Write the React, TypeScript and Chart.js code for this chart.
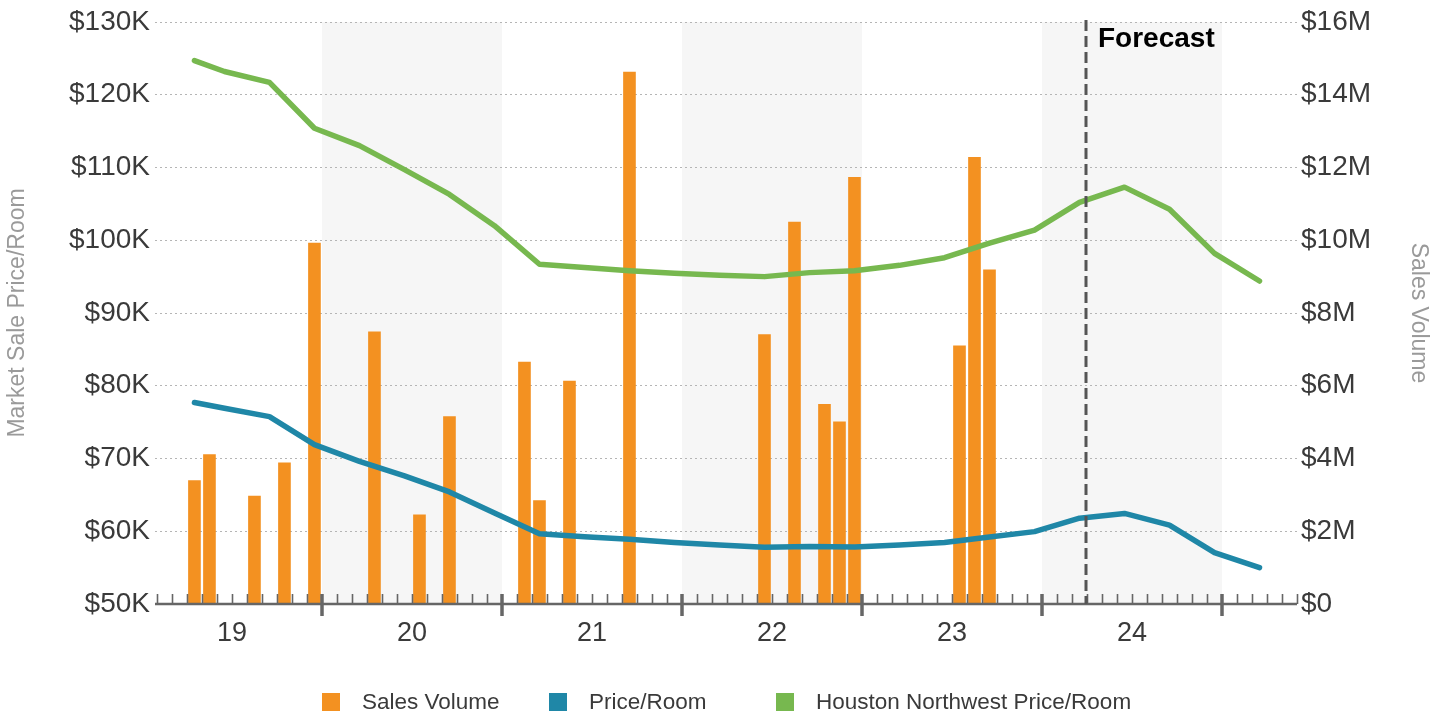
import React, { useEffect, useRef } from 'react';
import { Chart, registerables } from 'chart.js';

Chart.register(...registerables);

// Month index counted from January 2019 (0 = Jan 2019); marks sit mid-month.
const YEAR_LABELS = ['19', '20', '21', '22', '23', '24'];
const SHADED_YEAR_INDEXES = [1, 3, 5];

const SALE_MONTHS = [3, 4, 7, 9, 11, 15, 18, 20, 25, 26, 28, 32, 41, 43, 45, 46, 47, 54, 55, 56];
const SALES_VOLUME_M = [
  3.39, 4.11, 2.97, 3.88, 9.92, 7.48, 2.45, 5.15, 6.65, 2.84,
  6.13, 14.62, 7.41, 10.5, 5.49, 5.01, 11.73, 7.1, 12.28, 9.19,
];

const QUARTER_MONTHS = [
  3, 5, 8, 11, 14, 17, 20, 23, 26, 29, 32, 35, 38, 41, 44, 47, 50, 53, 56, 59, 62, 65, 68, 71, 74,
];
const PRICE_PER_ROOM_K = [
  77.7, 76.9, 75.75, 71.9, 69.6, 67.6, 65.4, 62.5, 59.65, 59.25, 58.9, 58.45, 58.1,
  57.8, 57.9, 57.85, 58.1, 58.45, 59.2, 59.95, 61.8, 62.45, 60.85, 57.05, 55.0,
];
const SUBMARKET_PRICE_PER_ROOM_K = [
  124.7, 123.2, 121.7, 115.4, 113.0, 109.7, 106.3, 102.0, 96.7, 96.25, 95.8, 95.45, 95.2,
  95.0, 95.55, 95.8, 96.55, 97.6, 99.6, 101.4, 105.2, 107.3, 104.25, 98.2, 94.4,
];

const FORECAST_START_MONTH = 62.95;
const AXIS_START_MONTH = 0.87;
const AXIS_END_MONTH = 77;

const PRICE_MIN_K = 50;
const PRICE_MAX_K = 130;
const PRICE_STEP_K = 10;
const VOLUME_MIN_M = 0;
const VOLUME_MAX_M = 16;
const VOLUME_STEP_M = 2;

const ORANGE = '#f39121';
const BLUE = '#1f87a7';
const GREEN = '#77b84f';
const TEXT = '#3a3a3a';
const TITLE_GREY = '#9a9a9a';
const AXIS_GREY = '#666666';
const FONT = '"Liberation Sans", Arial, sans-serif';

const yearBands = {
  id: 'yearBands',
  beforeDraw(chart: any) {
    const { ctx, chartArea, scales } = chart;
    const x = scales.x;
    ctx.save();
    ctx.beginPath();
    ctx.rect(chartArea.left, chartArea.top, chartArea.right - chartArea.left, chartArea.bottom - chartArea.top);
    ctx.clip();
    ctx.fillStyle = '#f6f6f6';
    SHADED_YEAR_INDEXES.forEach((yi) => {
      const x0 = x.getPixelForValue(yi * 12);
      const x1 = x.getPixelForValue(yi * 12 + 12);
      ctx.fillRect(x0, chartArea.top, x1 - x0, chartArea.bottom - chartArea.top);
    });
    ctx.restore();
  },
};

const monthAxis = {
  id: 'monthAxis',
  afterDatasetsDraw(chart: any) {
    const { ctx, chartArea, scales } = chart;
    const x = scales.x;
    const yb = chartArea.bottom;
    ctx.save();
    ctx.strokeStyle = AXIS_GREY;
    ctx.lineCap = 'butt';
    // month ticks pointing up into the plot
    ctx.lineWidth = 1.6;
    for (let m = Math.ceil(AXIS_START_MONTH); m <= Math.floor(AXIS_END_MONTH); m++) {
      if (m % 12 === 0) continue;
      const px = Math.round(x.getPixelForValue(m)) + 0.5;
      ctx.beginPath();
      ctx.moveTo(px, yb - 10);
      ctx.lineTo(px, yb);
      ctx.stroke();
    }
    // year boundary ticks crossing the axis
    ctx.lineWidth = 3.5;
    for (let m = 12; m < AXIS_END_MONTH; m += 12) {
      const px = Math.round(x.getPixelForValue(m));
      ctx.beginPath();
      ctx.moveTo(px, yb - 10);
      ctx.lineTo(px, yb + 12);
      ctx.stroke();
    }
    // axis line
    ctx.lineWidth = 2.5;
    ctx.beginPath();
    ctx.moveTo(chartArea.left, yb);
    ctx.lineTo(chartArea.right, yb);
    ctx.stroke();

    // forecast divider
    const fx = Math.round(x.getPixelForValue(FORECAST_START_MONTH));
    ctx.strokeStyle = '#555555';
    ctx.lineWidth = 3;
    ctx.setLineDash([11, 5]);
    ctx.beginPath();
    ctx.moveTo(fx, chartArea.top - 2);
    ctx.lineTo(fx, yb);
    ctx.stroke();
    ctx.setLineDash([]);
    ctx.fillStyle = '#000000';
    ctx.font = `bold 28px ${FONT}`;
    ctx.textAlign = 'left';
    ctx.textBaseline = 'alphabetic';
    ctx.fillText('Forecast', fx + 12, chartArea.top + 25);
    ctx.restore();
  },
};

const columnLegend = {
  id: 'columnLegend',
  afterDraw(chart: any) {
    const { ctx } = chart;
    const column = 227;
    const startX = chart.width / 2 - 400;
    const cy = 702;
    ctx.save();
    ctx.font = `22.5px ${FONT}`;
    ctx.textAlign = 'left';
    ctx.textBaseline = 'middle';
    chart.data.datasets.forEach((ds: any, i: number) => {
      const bx = startX + i * column;
      ctx.fillStyle = ds.legendColor;
      ctx.fillRect(bx, cy - 9, 18, 18);
      ctx.fillStyle = TEXT;
      ctx.fillText(ds.label, bx + 40, cy + 1);
    });
    ctx.restore();
  },
};

function PriceVolumeChart() {
  const canvasRef = useRef<HTMLCanvasElement | null>(null);

  useEffect(() => {
    document.body.style.margin = '0';
    const canvas = canvasRef.current;
    if (!canvas) return;
    Chart.defaults.font.family = FONT;

    const chart = new Chart(canvas, {
      type: 'bar',
      data: {
        datasets: [
          {
            type: 'bar',
            label: 'Sales Volume',
            data: SALE_MONTHS.map((m, i) => ({ x: m + 0.5, y: SALES_VOLUME_M[i] })),
            xAxisID: 'x',
            yAxisID: 'y1',
            backgroundColor: ORANGE,
            barThickness: 12,
            order: 3,
            legendColor: ORANGE,
          } as any,
          {
            type: 'line',
            label: 'Price/Room',
            data: QUARTER_MONTHS.map((m, i) => ({ x: m + 0.5, y: PRICE_PER_ROOM_K[i] })),
            xAxisID: 'x',
            yAxisID: 'y',
            borderColor: BLUE,
            backgroundColor: BLUE,
            borderWidth: 5.5,
            pointRadius: 0,
            borderCapStyle: 'round',
            borderJoinStyle: 'round',
            tension: 0,
            order: 2,
            legendColor: BLUE,
          } as any,
          {
            type: 'line',
            label: 'Houston Northwest Price/Room',
            data: QUARTER_MONTHS.map((m, i) => ({ x: m + 0.5, y: SUBMARKET_PRICE_PER_ROOM_K[i] })),
            xAxisID: 'x',
            yAxisID: 'y',
            borderColor: GREEN,
            backgroundColor: GREEN,
            borderWidth: 5.5,
            pointRadius: 0,
            borderCapStyle: 'round',
            borderJoinStyle: 'round',
            tension: 0,
            order: 1,
            legendColor: GREEN,
          } as any,
        ],
      },
      options: {
        responsive: false,
        animation: false,
        devicePixelRatio: 1,
        layout: { padding: { top: 22, left: 0, right: 0, bottom: 0 } },
        plugins: {
          legend: { display: false },
          tooltip: { enabled: false },
        },
        scales: {
          x: {
            type: 'linear',
            offset: false,
            min: AXIS_START_MONTH,
            max: AXIS_END_MONTH,
            grid: { display: false, drawTicks: false, offset: false },
            border: { display: false },
            afterBuildTicks: (s: any) => {
              s.ticks = YEAR_LABELS.map((_, i) => ({ value: i * 12 + 6 }));
            },
            ticks: {
              autoSkip: false,
              maxRotation: 0,
              padding: 13,
              color: TEXT,
              font: { size: 27 },
              callback: (_v: any, i: number) => YEAR_LABELS[i],
            },
            afterFit: (s: any) => {
              s.height = 113;
            },
          },
          y: {
            position: 'left',
            min: PRICE_MIN_K,
            max: PRICE_MAX_K,
            grid: { color: '#b5b5b5', lineWidth: 1, drawTicks: false },
            border: { display: false, dash: [2, 3] },
            ticks: {
              stepSize: PRICE_STEP_K,
              padding: 5,
              color: TEXT,
              font: { size: 28 },
              callback: (v: any) => `$${v}K`,
            },
            title: {
              display: true,
              text: 'Market Sale Price/Room',
              color: TITLE_GREY,
              font: { size: 23 },
              padding: { top: 4, bottom: 0 },
            },
            afterFit: (s: any) => {
              s.width = 155;
            },
          },
          y1: {
            position: 'right',
            min: VOLUME_MIN_M,
            max: VOLUME_MAX_M,
            grid: { display: false, drawTicks: false },
            border: { display: false },
            ticks: {
              stepSize: VOLUME_STEP_M,
              padding: 4,
              color: TEXT,
              font: { size: 28 },
              callback: (v: any) => (v === 0 ? '$0' : `$${v}M`),
            },
            title: {
              display: true,
              text: 'Sales Volume',
              color: TITLE_GREY,
              font: { size: 23 },
              padding: { top: 12, bottom: 0 },
            },
            afterFit: (s: any) => {
              s.width = 147;
            },
          },
        },
      } as any,
      plugins: [yearBands, monthAxis, columnLegend],
    });

    return () => chart.destroy();
  }, []);

  return (
    <div style={{ width: 1444, height: 717, background: '#ffffff' }}>
      <canvas ref={canvasRef} width={1444} height={717} style={{ display: 'block' }} />
    </div>
  );
}

export default function App() {
  return <PriceVolumeChart />;
}
